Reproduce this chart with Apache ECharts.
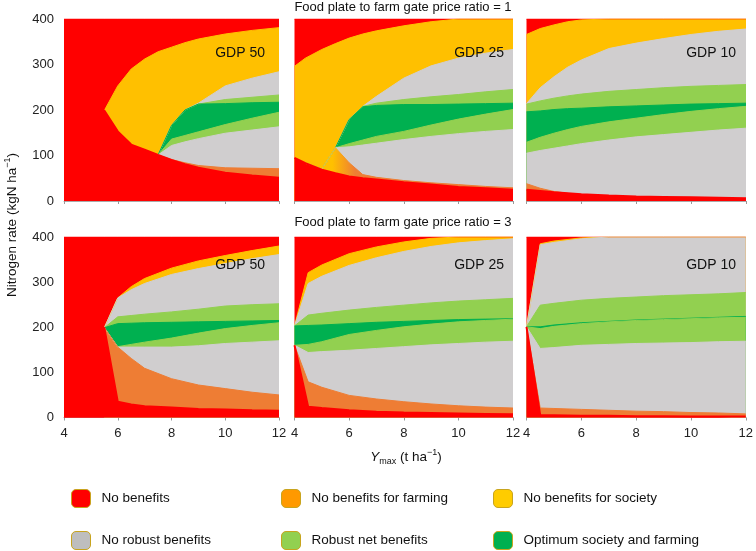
<!DOCTYPE html>
<html>
<head>
<meta charset="utf-8">
<script src="https://cdn.jsdelivr.net/npm/echarts@6/dist/echarts.min.js"></script>
<style>
html,body{margin:0;padding:0;background:#fff;}
#main{width:756px;height:551px;}
</style>
</head>
<body>
<div id="main"></div>
<script>
// boundaries of the regions, bottom to top (upper edge of each band), kgN/ha
// band order: no benefits, no benefits farming, no robust, robust, optimum, robust, no robust, no benefits society
var nTop = 400;

// price ratio = 1, GDP 50
var xT50 = [4, 5.5, 6, 6.5, 7, 7.5, 8, 8.5, 9, 10, 11, 12];
var bT50 = [
    [199, 199, 153, 124, 113, 101, 90, 81, 73, 62, 56, 51],
    [199, 199, 153, 124, 113, 101, 91, 84, 78, 73, 72, 71],
    [199, 199, 153, 124, 113, 101, 122, 130, 137, 149, 156, 163],
    [199, 199, 153, 124, 113, 101, 136, 144, 152, 168, 182, 195],
    [199, 199, 153, 124, 113, 101, 166, 200, 213, 214, 216, 217],
    [199, 199, 153, 124, 113, 101, 166, 200, 213, 223, 228, 233],
    [199, 199, 153, 124, 113, 101, 166, 200, 215, 253, 270, 284],
    [199, 199, 253, 290, 312, 328, 338, 348, 356, 367, 375, 381]
];
// price ratio = 1, GDP 25
var xT25 = [4, 4.4, 5, 5.5, 6, 6.5, 7, 8, 9, 10, 11, 12];
var bT25 = [
    [95, 83, 69, 61, 54, 50, 47, 41, 36, 31, 28, 25],
    [95, 83, 70, 117, 84, 58, 52, 45, 40, 36, 32, 29],
    [95, 83, 70, 117, 119, 123, 127, 135, 142, 148, 153, 157],
    [95, 83, 70, 117, 126, 134, 142, 153, 167, 180, 191, 201],
    [95, 83, 70, 117, 179, 207, 210, 212, 212, 213, 214, 215],
    [95, 83, 70, 117, 179, 208, 215, 223, 229, 234, 240, 245],
    [95, 83, 70, 117, 179, 208, 230, 270, 297, 314, 325, 333],
    [296, 314, 333, 346, 358, 367, 374, 385, 394, 400, 400, 400]
];
// price ratio = 1, GDP 10
var xT10 = [4, 4.5, 5, 5.5, 6, 7, 8, 9, 10, 11, 12];
var bT10 = [
    [25, 22, 19, 17, 15, 12, 10, 9, 8, 7, 6],
    [38, 28, 21, 17, 15, 12, 10, 9, 8, 7, 6],
    [105, 111, 116, 121, 126, 134, 141, 146, 151, 156, 160],
    [129, 140, 149, 157, 164, 174, 182, 190, 197, 203, 208],
    [196, 198, 201, 203, 204, 207, 209, 211, 213, 214, 215],
    [213, 220, 226, 231, 235, 241, 245, 249, 252, 254, 256],
    [214, 249, 273, 294, 310, 335, 347, 357, 366, 373, 378],
    [366, 379, 387, 394, 398, 400, 400, 400, 400, 400, 400]
];
// price ratio = 3, GDP 50
var xB50 = [4, 5.5, 6, 6.5, 7, 8, 9, 10, 11, 12];
var bB50 = [
    [199, 199, 35, 29, 25, 22, 19, 18, 16, 15],
    [199, 199, 156, 131, 109, 86, 72, 64, 56, 50],
    [199, 199, 156, 156, 156, 156, 159, 164, 167, 170],
    [199, 199, 157, 162, 167, 176, 187, 197, 204, 210],
    [199, 199, 208, 209, 210, 211, 212, 213, 214, 215],
    [199, 199, 223, 226, 229, 234, 240, 247, 250, 252],
    [199, 199, 265, 283, 297, 317, 330, 341, 352, 361],
    [199, 199, 265, 290, 308, 331, 347, 359, 370, 380]
];
// price ratio = 3, GDP 25
var xB25 = [4, 4.5, 5, 6, 7, 8, 9, 10, 11, 12];
var bB25 = [
    [160, 24, 21, 16, 13, 11, 10, 9, 8, 7],
    [160, 79, 67, 49, 41, 35, 30, 26, 23, 21],
    [160, 144, 146, 149, 153, 157, 161, 164, 167, 169],
    [160, 162, 168, 184, 193, 201, 207, 212, 215, 218],
    [203, 204, 205, 208, 211, 213, 215, 217, 218, 219],
    [203, 227, 231, 238, 244, 249, 254, 258, 261, 264],
    [203, 297, 313, 337, 354, 368, 379, 387, 392, 396],
    [203, 321, 338, 363, 378, 389, 397, 400, 400, 400]
];
// price ratio = 3, GDP 10
var xB10 = [4, 4.5, 5, 6, 7, 8, 9, 10, 11, 12];
var bB10 = [
    [201, 5, 5, 4, 4, 3, 3, 2, 2, 2],
    [201, 21, 20, 18, 16, 14, 13, 11, 10, 8],
    [201, 153, 155, 160, 162, 164, 165, 166, 168, 169],
    [201, 197, 202, 208, 212, 215, 217, 219, 221, 222],
    [201, 201, 205, 210, 213, 216, 218, 220, 222, 224],
    [201, 249, 253, 260, 264, 267, 270, 272, 274, 277],
    [201, 383, 388, 396, 400, 400, 400, 400, 400, 400],
    [201, 385, 391, 398, 400, 400, 400, 400, 400, 400]
];

var panelLabels = ['GDP 50', 'GDP 25', 'GDP 10', 'GDP 50', 'GDP 25', 'GDP 10'];
var rowTitles = ['Food plate to farm gate price ratio = 1', 'Food plate to farm gate price ratio = 3'];
var legendNames = ['No benefits', 'No benefits for farming', 'No benefits for society',
    'No robust benefits', 'Robust net benefits', 'Optimum society and farming'];

var RED = '#FF0000', ORANGE = '#EE7D34', GREY = '#D0CECF', LGREEN = '#92D050', DGREEN = '#00B050', YELLOW = '#FFC000';
var bandNames = ['No benefits', 'No benefits for farming', 'No robust benefits', 'Robust net benefits',
    'Optimum society and farming', 'Robust net benefits', 'No robust benefits', 'No benefits for society'];
var bandColors = [RED, ORANGE, GREY, LGREEN, DGREEN, LGREEN, GREY, YELLOW];
var legendColors = {
    'No benefits': '#FF0000', 'No benefits for farming': '#FF9900', 'No benefits for society': '#FFCC00',
    'No robust benefits': '#BEBEBE', 'Robust net benefits': '#92D050', 'Optimum society and farming': '#00B050'
};

var panels = [
    {x: xT50, b: bT50}, {x: xT25, b: bT25}, {x: xT10, b: bT10},
    {x: xB50, b: bB50}, {x: xB25, b: bB25}, {x: xB10, b: bB10}
];

var gridLeft = [64, 294.5, 526.5], gridWidth = [215, 218.5, 219.5];
var gridTop = [19, 237], gridHeight = [182, 180.5];

var grids = [], xAxes = [], yAxes = [], series = [], graphics = [];

// a band collapsed onto the bottom red band would only leave a seam, so those points are left out
function band(gi, name, color, lineColor, lineWidth, xs, ys, base) {
    var flat = ys.map(function (y, i) { return base && y === base[i]; });
    return {
        type: 'line', name: name, xAxisIndex: gi, yAxisIndex: gi,
        data: xs.map(function (x, i) {
            var keep = !flat[i] || (i > 0 && !flat[i - 1]) || (i < xs.length - 1 && !flat[i + 1]);
            return [x, keep ? ys[i] : '-'];
        }),
        showSymbol: false, silent: true, animation: false,
        lineStyle: {width: lineWidth, color: lineColor}, itemStyle: {color: lineColor},
        areaStyle: {color: color, opacity: 1, origin: 'start'}
    };
}

panels.forEach(function (p, gi) {
    var row = gi < 3 ? 0 : 1, col = gi % 3;
    grids.push({left: gridLeft[col], width: gridWidth[col], top: gridTop[row], height: gridHeight[row]});
    xAxes.push({
        gridIndex: gi, type: 'value', min: 4, max: 12, interval: 2,
        axisLine: {show: true, lineStyle: {color: '#AAAAAA', width: 1}},
        axisTick: {show: true, length: 3, lineStyle: {color: '#999999'}},
        axisLabel: {show: row === 1, fontSize: 13, color: '#222', margin: 9},
        splitLine: {show: false}
    });
    yAxes.push({
        gridIndex: gi, type: 'value', min: 0, max: 400, interval: 100,
        axisLine: {show: false}, axisTick: {show: false}, splitLine: {show: false},
        axisLabel: {show: col === 0, fontSize: 13, color: '#222', margin: 10}
    });
    // painter's order: top band first, lower boundaries drawn over it
    series.push(band(gi, 'No benefits', RED, RED, 1, p.x, p.x.map(function () { return nTop; }), null));
    for (var k = p.b.length - 1; k >= 0; k--) {
        var c = bandColors[k], lc = bandColors[k];
        if (gi === 1 && k === 1) {
            // yellow to orange blend near the apex in the GDP 25 panel
            c = lc = new echarts.graphic.LinearGradient(0, 0, 1, 0, [
                {offset: 0, color: YELLOW}, {offset: 0.13, color: YELLOW},
                {offset: 0.24, color: ORANGE}, {offset: 1, color: ORANGE}]);
        }
        series.push(band(gi, bandNames[k], c, lc, k === 0 ? 2 : 1, p.x, p.b[k], k === 0 ? null : p.b[0]));
    }
    graphics.push({
        type: 'text', z: 100, x: [265, 504, 736][col], y: row === 0 ? 53 : 265,
        style: {text: panelLabels[gi], fontSize: 14, fontFamily: 'Liberation Sans', fill: '#111',
            textAlign: 'right', textVerticalAlign: 'middle'}
    });
});

rowTitles.forEach(function (t, r) {
    graphics.push({
        type: 'text', z: 100, x: 403, y: r === 0 ? 7 : 222.5,
        style: {text: t, fontSize: 13, fontFamily: 'Liberation Sans', fill: '#111',
            textAlign: 'center', textVerticalAlign: 'middle'}
    });
});

// axis titles
graphics.push({
    type: 'text', z: 100, x: 12, y: 225, rotation: Math.PI / 2,
    style: {
        text: 'Nitrogen rate (kgN ha{sup|\u22121})', fontSize: 13.5, fontFamily: 'Liberation Sans', fill: '#111',
        textAlign: 'center', textVerticalAlign: 'middle',
        rich: {sup: {fontSize: 9, fontFamily: 'Liberation Sans', fill: '#111', padding: [0, 0, 9, 0]}}
    }
});
graphics.push({
    type: 'text', z: 100, x: 406, y: 457,
    style: {
        text: '{it|Y}{sub|max} (t ha{sup|\u22121})', fontSize: 13.5, fontFamily: 'Liberation Sans', fill: '#111',
        textAlign: 'center', textVerticalAlign: 'middle',
        rich: {
            it: {fontSize: 13.5, fontStyle: 'italic', fontFamily: 'Liberation Sans', fill: '#111'},
            sub: {fontSize: 9, fontFamily: 'Liberation Sans', fill: '#111', padding: [9, 0, 0, 0]},
            sup: {fontSize: 9, fontFamily: 'Liberation Sans', fill: '#111', padding: [0, 0, 9, 0]}
        }
    }
});

// legend: three columns of two
var legendCols = [[0, 3], [1, 4], [2, 5]];
var legends = legendCols.map(function (idx, c) {
    return {
        orient: 'vertical', left: [71, 281, 493][c], top: 489,
        itemWidth: 19, itemHeight: 18, itemGap: 23, padding: 0,
        selectedMode: false, icon: 'roundRect',
        itemStyle: {borderColor: '#C8A41E', borderWidth: 1},
        textStyle: {fontSize: 13.5, color: '#111', fontFamily: 'Liberation Sans', padding: [0, 0, 0, 6]},
        data: idx.map(function (i) {
            return {name: legendNames[i], itemStyle: {color: legendColors[legendNames[i]], borderColor: '#C8A41E', borderWidth: 1}};
        })
    };
});

var chart = echarts.init(document.getElementById('main'));
chart.setOption({
    animation: false,
    textStyle: {fontFamily: 'Liberation Sans'},
    grid: grids, xAxis: xAxes, yAxis: yAxes,
    legend: legends,
    series: series,
    graphic: graphics
});
</script>
</body>
</html>
